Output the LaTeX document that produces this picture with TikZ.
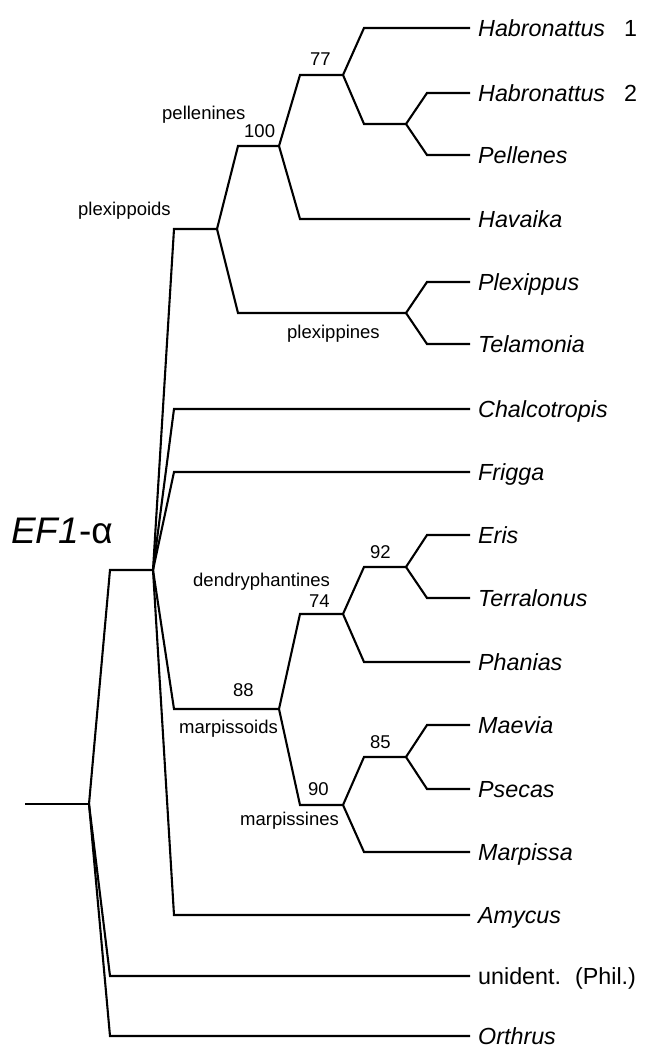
\documentclass[tikz,border=0pt]{standalone}
\usepackage{fontspec}
\setmainfont{Liberation Sans}
\usetikzlibrary{calc}
\newcommand\brnch[2]{\draw[br] (#1) -- ($(#1 |- #2)+(21,0)$) -- (#2);}
\begin{document}
\begin{tikzpicture}[x=1pt,y=-1pt,
  br/.style={line width=2.1pt},
  leaf/.style={anchor=west, inner xsep=8pt, inner ysep=0pt, text height=17.4pt, text depth=0pt,
    font=\fontsize{23.3}{28}\selectfont\itshape},
  lab/.style={anchor=base west, inner sep=0pt, font=\fontsize{18.5}{22}\selectfont}]
\useasboundingbox (0,0) rectangle (648,1047);
% leaves
\node[leaf] (hab1) at (470,28) {Habronattus\hspace{19pt}\upshape 1};
\node[leaf] (hab2) at (470,93) {Habronattus\hspace{19pt}\upshape 2};
\node[leaf] (pel) at (470,155) {Pellenes};
\node[leaf] (hav) at (470,219) {Havaika};
\node[leaf] (plx) at (470,282) {Plexippus};
\node[leaf] (tel) at (470,344) {Telamonia};
\node[leaf] (cha) at (470,409) {Chalcotropis};
\node[leaf] (fri) at (470,472) {Frigga};
\node[leaf] (eri) at (470,535) {Eris};
\node[leaf] (ter) at (470,598) {Terralonus};
\node[leaf] (pha) at (470,662) {Phanias};
\node[leaf] (mae) at (470,725) {Maevia};
\node[leaf] (pse) at (470,789) {Psecas};
\node[leaf] (mar) at (470,852) {Marpissa};
\node[leaf] (amy) at (470,915) {Amycus};
\node[leaf] (uni) at (470,976) {\upshape unident.\hspace{14pt}(Phil.)};
\node[leaf] (ort) at (470,1036) {Orthrus};
% internal nodes
\coordinate (P3) at (406,124);
\coordinate (P2) at (343,75);
\coordinate (P1) at (279,146);
\coordinate (P4) at (406,313);
\coordinate (P0) at (217,229);
\coordinate (R1) at (153,570);
\coordinate (R0) at (89,804);
\coordinate (M0) at (279,709);
\coordinate (D0) at (343,614);
\coordinate (E0) at (406,567);
\coordinate (MS) at (343,805);
\coordinate (MP) at (406,757);
\coordinate (root) at (25,804);
% branches
\draw[br] (root) -- (R0);
\brnch{R0}{R1}
\brnch{R0}{uni.west}
\brnch{R0}{ort.west}
\brnch{R1}{P0}
\brnch{R1}{cha.west}
\brnch{R1}{fri.west}
\brnch{R1}{M0}
\brnch{R1}{amy.west}
\brnch{P0}{P1}
\brnch{P0}{P4}
\brnch{P1}{P2}
\brnch{P1}{hav.west}
\brnch{P2}{hab1.west}
\brnch{P2}{P3}
\brnch{P3}{hab2.west}
\brnch{P3}{pel.west}
\brnch{P4}{plx.west}
\brnch{P4}{tel.west}
\brnch{M0}{D0}
\brnch{M0}{MS}
\brnch{D0}{E0}
\brnch{D0}{pha.west}
\brnch{E0}{eri.west}
\brnch{E0}{ter.west}
\brnch{MS}{MP}
\brnch{MS}{mar.west}
\brnch{MP}{mae.west}
\brnch{MP}{pse.west}
% labels
\node[lab] (l77) at (310,65) {77};
\node[lab] (l100) at (244,137) {100};
\node[lab] (lpel) at (162,119) {pellenines};
\node[lab] (lplo) at (78,215) {plexippoids};
\node[lab] (lpli) at (287,338) {plexippines};
\node[lab] (lden) at (193,586) {dendryphantines};
\node[lab] (l74) at (309,607) {74};
\node[lab] (l92) at (370,558) {92};
\node[lab] (l88) at (233,696) {88};
\node[lab] (lmso) at (179,733) {marpissoids};
\node[lab] (l90) at (308,795) {90};
\node[lab] (lmsi) at (240,825) {marpissines};
\node[lab] (l85) at (370,748) {85};
\node[anchor=base west, inner sep=0pt, font=\fontsize{37}{42}\selectfont] (title) at (11,543) {\itshape EF1\upshape-α};
\end{tikzpicture}
\end{document}
